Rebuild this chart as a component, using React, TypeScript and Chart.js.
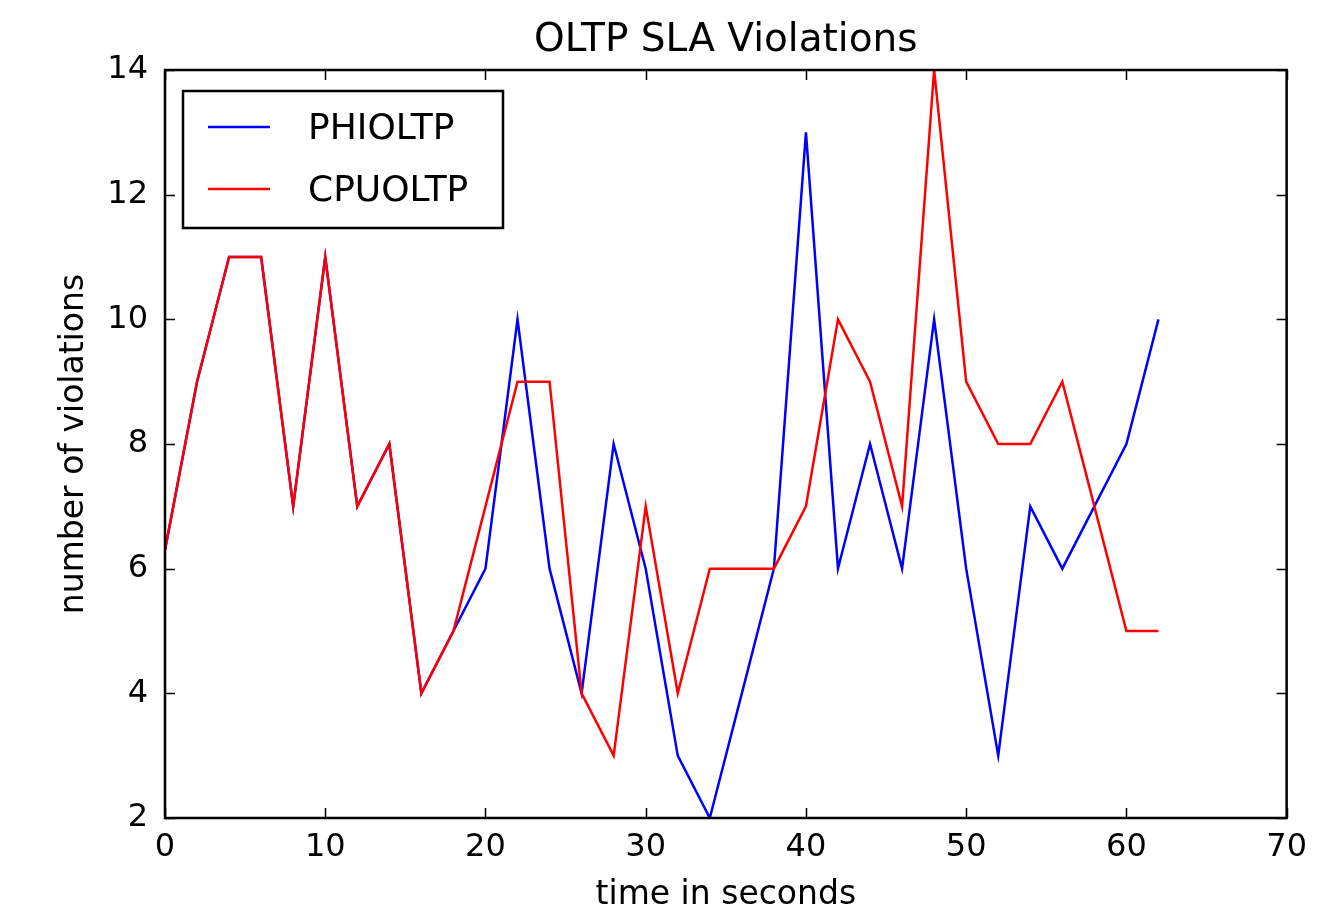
import React, { useEffect, useRef } from "react";
import { Chart, registerables } from "chart.js";

Chart.register(...registerables);

const TITLE = "OLTP SLA Violations";
const X_LABEL = "time in seconds";
const Y_LABEL = "number of violations";

const TIMES = [0, 2, 4, 6, 8, 10, 12, 14, 16, 18, 20, 22, 24, 26, 28, 30, 32, 34, 36, 38, 40, 42, 44, 46, 48, 50, 52, 54, 56, 58, 60, 62];
const PHI_OLTP = [6.3, 9, 11, 11, 7, 11, 7, 8, 4, 5, 6, 10, 6, 4, 8, 6, 3, 2, 4, 6, 13, 6, 8, 6, 10, 6, 3, 7, 6, 7, 8, 10];
const CPU_OLTP = [6.3, 9, 11, 11, 7, 11, 7, 8, 4, 5, 7, 9, 9, 4, 3, 7, 4, 6, 6, 6, 7, 10, 9, 7, 14, 9, 8, 8, 9, 7, 5, 5];

const X_TICKS = [0, 10, 20, 30, 40, 50, 60, 70];
const Y_TICKS = [2, 4, 6, 8, 10, 12, 14];

const SERIES_NAMES = ["PHIOLTP", "CPUOLTP"];
const SERIES_COLORS = ["#0000ff", "#ff0000"];

const FONT = "'DejaVu Sans', sans-serif";

const framePlugin = {
  id: "mplFrame",
  afterDraw(chart: any) {
    const { ctx, chartArea } = chart;
    const { left, right, top, bottom } = chartArea;
    const xs = chart.scales.x;
    const ys = chart.scales.y;
    const tl = 10;
    ctx.save();
    ctx.strokeStyle = "#000";
    ctx.lineWidth = 1.5;
    ctx.beginPath();
    for (const v of X_TICKS) {
      const px = Math.round(xs.getPixelForValue(v)) + 0.5;
      ctx.moveTo(px, bottom);
      ctx.lineTo(px, bottom - tl);
      ctx.moveTo(px, top);
      ctx.lineTo(px, top + tl);
    }
    for (const v of Y_TICKS) {
      const py = Math.round(ys.getPixelForValue(v)) + 0.5;
      ctx.moveTo(left, py);
      ctx.lineTo(left + tl, py);
      ctx.moveTo(right, py);
      ctx.lineTo(right - tl, py);
    }
    ctx.stroke();
    ctx.lineWidth = 2.5;
    ctx.strokeRect(left, top, right - left, bottom - top);

    // title
    ctx.fillStyle = "#000";
    ctx.font = `39px ${FONT}`;
    ctx.textAlign = "center";
    ctx.textBaseline = "middle";
    ctx.fillText(TITLE, (left + right) / 2, 41);

    // legend
    const bx = left + 18;
    const by = top + 21;
    const bw = 320;
    const bh = 137;
    ctx.fillStyle = "#fff";
    ctx.fillRect(bx, by, bw, bh);
    ctx.lineWidth = 2.5;
    ctx.strokeStyle = "#000";
    ctx.strokeRect(bx, by, bw, bh);
    ctx.font = `36px ${FONT}`;
    ctx.textAlign = "left";
    SERIES_NAMES.forEach((name, i) => {
      const ly = by + 36 + i * 62;
      ctx.strokeStyle = SERIES_COLORS[i];
      ctx.lineWidth = 2.5;
      ctx.beginPath();
      ctx.moveTo(bx + 25, ly);
      ctx.lineTo(bx + 87, ly);
      ctx.stroke();
      ctx.fillStyle = "#000";
      ctx.fillText(name, bx + 125, ly + 3);
    });
    ctx.restore();
  },
};

export default function App() {
  const canvasRef = useRef<HTMLCanvasElement | null>(null);

  useEffect(() => {
    document.body.style.margin = "0";
    const canvas = canvasRef.current;
    if (!canvas) return;
    const toPoints = (ys: number[]) => TIMES.map((t, i) => ({ x: t, y: ys[i] }));
    const chart = new Chart(canvas, {
      type: "line",
      data: {
        datasets: [
          {
            label: SERIES_NAMES[1],
            data: toPoints(CPU_OLTP),
            borderColor: SERIES_COLORS[1],
            borderWidth: 2.5,
            pointRadius: 0,
            fill: false,
            tension: 0,
            order: 0,
          },
          {
            label: SERIES_NAMES[0],
            data: toPoints(PHI_OLTP),
            borderColor: SERIES_COLORS[0],
            borderWidth: 2.5,
            pointRadius: 0,
            fill: false,
            tension: 0,
            order: 1,
          },
        ],
      },
      plugins: [framePlugin],
      options: {
        animation: false,
        responsive: true,
        maintainAspectRatio: false,
        layout: { padding: { top: 70, right: 29, left: 0, bottom: 0 }, autoPadding: false },
        plugins: {
          legend: { display: false },
          title: { display: false },
          tooltip: { enabled: false },
        },
        scales: {
          x: {
            type: "linear",
            min: 0,
            max: 70,
            afterBuildTicks: (s: any) => {
              s.ticks = X_TICKS.map((v) => ({ value: v }));
            },
            afterFit: (s: any) => {
              s.height = 97;
            },
            ticks: {
              color: "#000",
              font: { family: FONT, size: 32 },
              padding: 10,
              maxRotation: 0,
              autoSkip: false,
            },
            grid: { display: false, drawTicks: false },
            border: { display: false },
            title: {
              display: true,
              text: X_LABEL,
              color: "#000",
              font: { family: FONT, size: 33 },
              padding: { top: 0, bottom: 0 },
            },
          },
          y: {
            type: "linear",
            min: 2,
            max: 14,
            afterBuildTicks: (s: any) => {
              s.ticks = Y_TICKS.map((v) => ({ value: v }));
            },
            afterFit: (s: any) => {
              s.width = 165;
            },
            ticks: {
              color: "#000",
              font: { family: FONT, size: 32 },
              padding: 17,
              autoSkip: false,
            },
            grid: { display: false, drawTicks: false },
            border: { display: false },
            title: {
              display: true,
              text: Y_LABEL,
              color: "#000",
              font: { family: FONT, size: 33 },
              padding: { top: 55, bottom: 0 },
            },
          },
        },
      },
    });
    return () => chart.destroy();
  }, []);

  return (
    <div style={{ position: "relative", width: 1317, height: 915 }}>
      <canvas ref={canvasRef} />
    </div>
  );
}
